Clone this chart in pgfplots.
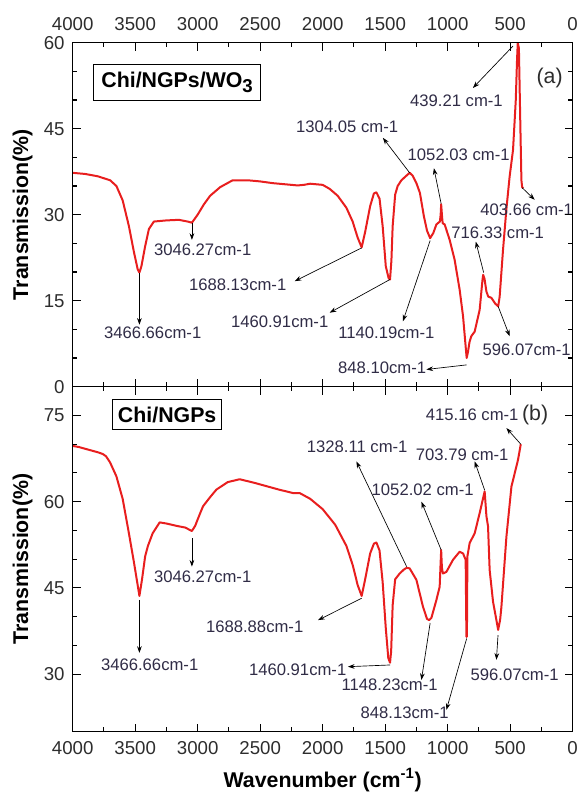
\documentclass[border=0pt]{standalone}
\usepackage{fontspec}
\setmainfont{Liberation Sans}
\usepackage{pgfplots}
\pgfplotsset{compat=1.18}
\usetikzlibrary{arrows.meta}

\definecolor{spec}{RGB}{232,30,30}
\definecolor{anntext}{RGB}{48,44,70}
\definecolor{ticktext}{RGB}{45,45,45}

\newcommand{\annfont}{\fontsize{12.5}{14}\selectfont}
\newcommand{\tickfont}{\fontsize{14}{16}\selectfont}
\newcommand{\labfont}{\fontsize{16}{18}\selectfont\bfseries}

\tikzset{
  spectrum/.style={spec, line width=1.5pt, line join=round},
  ann/.style={font=\annfont, text=anntext, inner sep=0.5pt},
  arr/.style={-{Stealth[length=5pt,width=3.5pt]}, black, line width=0.5pt},
}

\pgfplotsset{
  ftir/.style={
    scale only axis,
    width=375pt,
    xmin=0, xmax=4000, x dir=reverse,
    xtick={0,500,...,4000},
    minor x tick num=1,
    minor y tick num=2,
    major tick length=6pt,
    minor tick length=3.5pt,
    tick align=inside,
    tick style={black, line width=0.8pt},
    axis line style={black, line width=1pt},
    tick label style={font=\tickfont, text=ticktext},
    xticklabel style={inner xsep=0pt},
    yticklabel style={inner ysep=0pt, xshift=-2.5pt},
    /pgf/number format/assume math mode=true,
    /pgf/number format/1000 sep={},
    axis on top,
    clip=true,
  },
}

\begin{document}
\begin{tikzpicture}
\useasboundingbox (-54.5pt,32pt) rectangle (380.5pt,-563.5pt);

% ---------------- (a) Chi/NGPs/WO3 ----------------
\begin{axis}[ftir,
  at={(0,0)}, anchor=north west,
  height=258pt,
  ymin=0, ymax=60, ytick={0,15,30,45,60},
  xticklabel pos=upper,
  xticklabel style={yshift=5.5pt},
  ylabel={Transmission(\%)},
  ylabel style={font=\labfont, at={(axis description cs:-0.1,0.5)}, anchor=center},
]
\addplot[spectrum] coordinates {
(4000,37.3) (3900,37.1) (3800,36.7) (3700,36.0) (3650,35.0) (3600,32.5)
(3550,28.0) (3510,23.5) (3480,20.5) (3466,19.9) (3450,21.0) (3420,24.5)
(3390,27.5) (3350,28.8) (3250,29.0) (3150,29.1) (3080,28.8) (3046,28.6)
(3000,30.0) (2950,31.8) (2900,33.3) (2820,34.8) (2720,36.0) (2600,36.0)
(2500,35.8) (2400,35.5) (2300,35.3) (2200,35.1) (2150,35.2) (2100,35.4)
(2000,35.2) (1944,34.5) (1880,33.3) (1810,31.2) (1760,28.8) (1720,26.0)
(1688,24.3) (1660,27.0) (1620,31.5) (1590,33.7) (1570,33.9) (1545,32.8)
(1520,28.0) (1495,21.0) (1472,18.9) (1461,18.7) (1450,22.0) (1440,28.0)
(1420,33.5) (1400,35.0) (1370,36.0) (1330,36.8) (1304,37.3) (1280,36.8)
(1250,35.5) (1222,33.8) (1190,29.7) (1165,27.2) (1140,25.9) (1115,26.8)
(1090,28.3) (1062,28.8) (1056,30.0) (1052,31.8) (1046,30.0) (1040,28.5)
(1024,28.3) (984,25.6) (944,22.1) (904,16.9) (877,12.3) (858,7.5)
(848,5.0) (838,6.0) (825,7.8) (811,8.8) (784,9.6) (744,13.4) (722,18.5)
(716,19.5) (705,18.8) (690,16.6) (675,15.7) (650,15.5) (620,14.5)
(596,14.0) (584,15.7) (557,23.9) (530,31.0) (504,36.7) (477,41.3)
(455,50.0) (445,57.0) (439,60.0) (430,59.0) (418,45.0) (410,36.0)
(404,34.8) (395,34.6)
};

\node[draw=black, line width=0.8pt, fill=white, inner xsep=6pt, minimum height=27pt,
      font=\labfont] at (axis cs:3164,53.0) {Chi/NGPs/WO\raisebox{-0.45ex}{\fontsize{14}{14}\selectfont 3}};
\node[font=\fontsize{16}{18}\selectfont, text=ticktext] at (axis cs:184,53.9) {(a)};

\draw[arr] (axis cs:3466,19.9) -- (axis cs:3466,10.8);
\node[ann] at (axis cs:3360,9.4) {3466.66cm-1};
\draw[arr] (axis cs:3046,28.6) -- (axis cs:3046,25.6);
\node[ann] at (axis cs:2960,23.9) {3046.27cm-1};
\draw[arr] (axis cs:1688,24.2) -- (axis cs:2224,18.4);
\node[ann] at (axis cs:2680,17.8) {1688.13cm-1};
\draw[arr] (axis cs:1461,18.7) -- (axis cs:1944,12.9);
\node[ann] at (axis cs:2344,11.3) {1460.91cm-1};
\draw[arr] (axis cs:1140,25.5) -- (axis cs:1358,11.4);
\node[ann] at (axis cs:1490,9.4) {1140.19cm-1};
\draw[arr] (axis cs:848,3.8) -- (axis cs:1170,3.0);
\node[ann] at (axis cs:1524,3.3) {848.10cm-1};
\draw[arr] (axis cs:596,14.0) -- (axis cs:504,8.8);
\node[ann] at (axis cs:368,6.5) {596.07cm-1};
\draw[arr] (axis cs:712,19.9) -- (axis cs:775,25.3);
\node[ann] at (axis cs:600,26.9) {716.33 cm-1};
\draw[arr] (axis cs:404,34.7) -- (axis cs:304,32.6);
\node[ann] at (axis cs:368,30.9) {403.66 cm-1};
\draw[arr] (axis cs:1052,31.9) -- (axis cs:1110,38.1);
\node[ann] at (axis cs:912,40.5) {1052.03 cm-1};
\draw[arr] (axis cs:1304,37.3) -- (axis cs:1518,43.4);
\node[ann] at (axis cs:1804,45.4) {1304.05 cm-1};
\draw[arr] (axis cs:478,59.4) -- (axis cs:798,52.1);
\node[ann] at (axis cs:930,49.8) {439.21 cm-1};
\end{axis}

% ---------------- (b) Chi/NGPs ----------------
\begin{axis}[ftir,
  at={(0,-258pt)}, anchor=north west,
  height=258.75pt,
  ymin=20, ymax=80, ytick={30,45,60,75},
  xticklabel style={yshift=-4pt},
  xlabel={Wavenumber (cm\textsuperscript{-1})},
  xlabel style={font=\labfont, at={(axis description cs:0.5,-0.14)}, anchor=center},
  ylabel={Transmission(\%)},
  ylabel style={font=\labfont, at={(axis description cs:-0.1,0.5)}, anchor=center},
]
\addplot[spectrum] coordinates {
(4000,69.7) (3950,69.5) (3900,69.2) (3850,68.9) (3800,68.6) (3760,68.3)
(3733,67.9) (3700,66.8) (3650,64.4) (3600,60.5) (3550,54.5) (3510,49.5)
(3480,45.5) (3466,43.6) (3445,46.5) (3420,50.5) (3398,52.3) (3360,54.5)
(3304,56.4) (3250,56.2) (3170,55.8) (3100,55.5) (3046,54.9) (3020,55.8)
(2980,58.0) (2957,59.2) (2900,60.8) (2850,62.1) (2760,63.4) (2664,63.9)
(2550,63.3) (2450,62.7) (2350,62.1) (2237,61.5) (2184,61.5) (2100,60.5)
(2000,58.7) (1900,56.0) (1810,52.3) (1760,49.0) (1720,45.5) (1688,43.6)
(1660,46.5) (1620,51.0) (1590,52.7) (1570,52.9) (1545,51.5) (1520,46.0)
(1495,38.0) (1475,32.8) (1461,32.0) (1452,34.0) (1440,42.0) (1420,46.5)
(1384,47.5) (1350,48.2) (1328,48.5) (1304,48.4) (1250,46.4) (1197,41.7)
(1165,39.6) (1148,39.4) (1130,39.8) (1090,42.9) (1064,45.2) (1057,49.0)
(1052,51.6) (1046,48.5) (1038,47.5) (1010,47.8) (957,49.9) (904,51.3)
(877,51.0) (856,49.9) (850,36.5) (846,36.5) (842,50.5) (824,52.8)
(784,54.5) (744,58.0) (704,61.8) (690,57.5) (677,55.7) (664,48.1)
(637,42.6) (610,39.4) (596,37.7) (580,39.5) (570,41.7) (530,53.9)
(490,62.6) (437,67.3) (415,70.0)
};

\node[draw=black, line width=0.8pt, fill=white, inner xsep=4pt, minimum height=22.5pt,
      font=\labfont] at (axis cs:3244,75.1) {Chi/NGPs};
\node[font=\fontsize{16}{18}\selectfont, text=ticktext] at (axis cs:300,75.1) {(b)};

\draw[arr] (axis cs:3466,42.9) -- (axis cs:3466,33.7);
\node[ann] at (axis cs:3384,31.6) {3466.66cm-1};
\draw[arr] (axis cs:3046,53.6) -- (axis cs:3046,48.7);
\node[ann] at (axis cs:2960,47.0) {3046.27cm-1};
\draw[arr] (axis cs:1688,43.2) -- (axis cs:2037,39.4);
\node[ann] at (axis cs:2544,38.2) {1688.88cm-1};
\draw[arr] (axis cs:1461,31.6) -- (axis cs:1798,31.3);
\node[ann] at (axis cs:2200,30.7) {1460.91cm-1};
\draw[arr] (axis cs:1140,38.9) -- (axis cs:1210,29.0);
\node[ann] at (axis cs:1464,28.1) {1148.23cm-1};
\draw[arr] (axis cs:848,36.2) -- (axis cs:1010,23.8);
\node[ann] at (axis cs:1344,23.3) {848.13cm-1};
\draw[arr] (axis cs:597,36.8) -- (axis cs:610,32.5);
\node[ann] at (axis cs:464,29.9) {596.07cm-1};
\draw[arr] (axis cs:704,62.0) -- (axis cs:784,67.0);
\node[ann] at (axis cs:884,68.1) {703.79 cm-1};
\draw[arr] (axis cs:1052,51.6) -- (axis cs:1210,60.0);
\node[ann] at (axis cs:1200,62.0) {1052.02 cm-1};
\draw[arr] (axis cs:1328,48.7) -- (axis cs:1730,67.0);
\node[ann] at (axis cs:1724,69.6) {1328.11 cm-1};
\draw[arr] (axis cs:415,70.0) -- (axis cs:530,72.8);
\node[ann] at (axis cs:804,75.1) {415.16 cm-1};
\end{axis}
\end{tikzpicture}
\end{document}
